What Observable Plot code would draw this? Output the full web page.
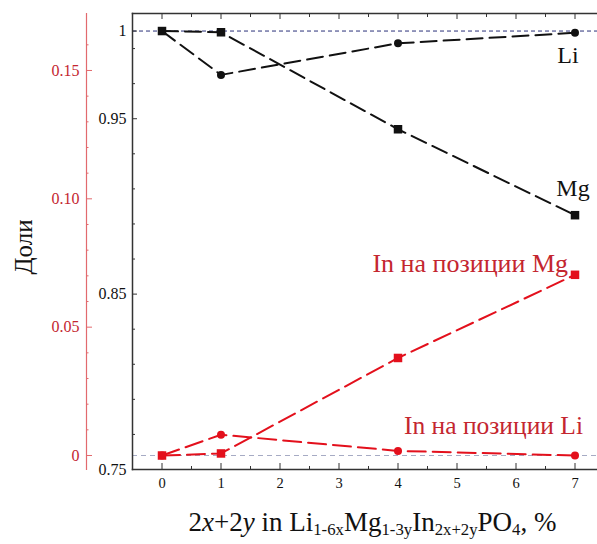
<!DOCTYPE html>
<html>
<head>
<meta charset="utf-8">
<script src="https://cdn.jsdelivr.net/npm/d3@7"></script>
<script src="https://cdn.jsdelivr.net/npm/@observablehq/plot@0.6"></script>
<style>
  body { margin: 0; background: #fff; width: 597px; height: 544px; overflow: hidden; position: relative; font-family: 'Liberation Serif', serif; }
  #chart svg text { font-family: 'Liberation Serif', serif !important; font-variant: normal !important; }
  #ytitle { position: absolute; left: 23px; top: 247px; transform: translate(-50%, -50%) rotate(-90deg); font-size: 25px; line-height: 25px; color: #111; white-space: nowrap; }
  #caption { position: absolute; left: 140px; width: 465px; top: 507px; text-align: center; font-size: 27px; line-height: 30px; color: #111; white-space: nowrap; }
  #caption sub { font-size: 62%; vertical-align: baseline; position: relative; top: 0.24em; }
</style>
</head>
<body>
<div id="chart"></div>
<div id="ytitle">Доли</div>
<div id="caption">2<i>x</i>+2<i>y</i> in Li<sub>1-6x</sub>Mg<sub>1-3y</sub>In<sub>2x+2y</sub>PO<sub>4</sub>, %</div>
<script>
// Substitution level, % (2x+2y)
const composition = [0, 1, 4, 7];
// Site occupancies (black, inner axis)
const liOccupancy = [1.0, 0.975, 0.993, 0.999];
const mgOccupancy = [1.0, 0.9993, 0.944, 0.895];
// Indium fractions (red, outer axis)
const inOnMg = [0, 0.0008, 0.038, 0.0704];
const inOnLi = [0, 0.0081, 0.0018, 0];

const xTicks = [0, 1, 2, 3, 4, 5, 6, 7];
const xMinorTicks = [0.5, 1.5, 2.5, 3.5, 4.5, 5.5, 6.5];
const occupancyTicks = [0.75, 0.85, 0.95, 1];
const occupancyLabels = ["0.75", "0.85", "0.95", "1"];
const occupancyMinorTicks = [0.77, 0.79, 0.81, 0.83, 0.87, 0.89, 0.91, 0.93, 0.97, 0.99];
const indiumTicks = [0, 0.05, 0.10, 0.15];
const indiumLabels = ["0", "0.05", "0.10", "0.15"];
const indiumMinorTicks = [0.01, 0.02, 0.03, 0.04, 0.06, 0.07, 0.08, 0.09, 0.11, 0.12, 0.13, 0.14, 0.16];

// Both axes share the plot height; indium values are mapped onto the occupancy scale
const occupancyDomain = [0.75, 1.01];
const indiumDomain = [-0.00545, 0.1722];
const toOccupancy = (v) =>
  occupancyDomain[0] + (v - indiumDomain[0]) / (indiumDomain[1] - indiumDomain[0]) * (occupancyDomain[1] - occupancyDomain[0]);

const serif = "'Liberation Serif', serif";
const black = "#111";
const red = "#e3101c";
const redText = "#c4262f";
const redAxis = "#e26a6e";

const rows = (ys, series) => composition.map((x, i) => ({x, y: ys[i], series}));
const li = rows(liOccupancy, "Li");
const mg = rows(mgOccupancy, "Mg");
const inMg = rows(inOnMg.map(toOccupancy), "In Mg");
const inLi = rows(inOnLi.map(toOccupancy), "In Li");

const occLabel = new Map(occupancyTicks.map((t, i) => [t, occupancyLabels[i]]));
const indTicksMapped = indiumTicks.map(toOccupancy);
const indLabel = new Map(indTicksMapped.map((t, i) => [t, indiumLabels[i]]));

const chart = Plot.plot({
  width: 597,
  height: 500,
  marginLeft: 132,
  marginRight: 0,
  marginTop: 13,
  marginBottom: 31,
  style: {fontFamily: serif, background: "#fff", color: black},
  x: {domain: [-0.5, 7.5], range: [132, 604], axis: null},
  y: {domain: occupancyDomain, axis: null},
  marks: [
    // reference levels: full occupancy and zero indium
    Plot.ruleY([1], {stroke: "#2a2f78", strokeWidth: 1, strokeDasharray: "4,3"}),
    Plot.ruleY([toOccupancy(0)], {stroke: "#a6abc4", strokeWidth: 1, strokeDasharray: "5,4"}),

    // frame lines
    Plot.frame({anchor: "left", stroke: "#333", strokeWidth: 1.5}),
    Plot.frame({anchor: "top", stroke: "#333", strokeWidth: 1.5}),
    Plot.frame({anchor: "bottom", stroke: "#333", strokeWidth: 1.5}),

    // x axis ticks (top and bottom, pointing inward)
    Plot.axisX(xTicks, {anchor: "top", tickSize: -5, fill: "none", stroke: "#333", label: null}),
    Plot.axisX(xMinorTicks, {anchor: "top", tickSize: -3, fill: "none", stroke: "#333", label: null}),
    Plot.axisX(xTicks, {anchor: "bottom", tickSize: -6, tickPadding: 14.5, fontSize: 14.5, fontFamily: serif, stroke: "#333", fill: black, label: null}),
    Plot.axisX(xMinorTicks, {anchor: "bottom", tickSize: -3, fill: "none", stroke: "#333", label: null}),

    // occupancy axis (inner, black)
    Plot.axisY(occupancyTicks, {anchor: "left", tickSize: -5, tickPadding: 11, fontSize: 16, fontFamily: serif, stroke: "#333", fill: black, tickFormat: (d) => occLabel.get(d), label: null}),
    Plot.axisY(occupancyMinorTicks, {anchor: "left", tickSize: -3, fill: "none", stroke: "#333", label: null}),

    // indium axis (outer, red)
    Plot.frame({anchor: "left", dx: -46, stroke: redAxis, strokeWidth: 1.2}),
    Plot.axisY(indTicksMapped, {anchor: "left", dx: -46, tickSize: -6, tickPadding: 13, fontSize: 16, fontFamily: serif, stroke: redAxis, fill: redText, tickFormat: (d) => indLabel.get(d), label: null}),
    Plot.axisY(indiumMinorTicks.map(toOccupancy), {anchor: "left", dx: -46, tickSize: -2.5, fill: "none", stroke: redAxis, label: null}),

    // series lines
    Plot.line(li, {x: "x", y: "y", stroke: black, strokeWidth: 2, strokeDasharray: "16,7"}),
    Plot.line(mg, {x: "x", y: "y", stroke: black, strokeWidth: 2, strokeDasharray: "16,7"}),
    Plot.line(inMg, {x: "x", y: "y", stroke: red, strokeWidth: 2, strokeDasharray: "18,7"}),
    Plot.line(inLi, {x: "x", y: "y", stroke: red, strokeWidth: 2, strokeDasharray: "18,7"}),

    // markers: circles for Li sites, squares for Mg sites
    Plot.dot(li, {x: "x", y: "y", r: 4, fill: black, stroke: "none"}),
    Plot.dot(inLi, {x: "x", y: "y", r: 4, fill: red, stroke: "none"}),
    Plot.dot(mg, {x: "x", y: "y", r: 4.8, symbol: "square", fill: black, stroke: "none"}),
    Plot.dot(inMg, {x: "x", y: "y", r: 4.8, symbol: "square", fill: red, stroke: "none"}),

    // series labels, anchored at the last point of each series
    Plot.text(li.slice(-1), {x: "x", y: "y", text: () => "Li", dx: -7, dy: 23, fontSize: 24, fontFamily: serif, fill: black}),
    Plot.text(mg.slice(-1), {x: "x", y: "y", text: () => "Mg", dx: -2, dy: -27, fontSize: 24, fontFamily: serif, fill: black}),
    Plot.text(inMg.slice(-1), {x: "x", y: "y", text: () => "In на позиции Mg", textAnchor: "end", dx: -7, dy: -11, fontSize: 26, fontFamily: serif, fill: redText}),
    Plot.text(inLi.slice(-1), {x: "x", y: "y", text: () => "In на позиции Li", textAnchor: "end", dx: 8, dy: -30, fontSize: 25.5, fontFamily: serif, fill: redText})
  ]
});

document.getElementById("chart").append(chart);
</script>
</body>
</html>
